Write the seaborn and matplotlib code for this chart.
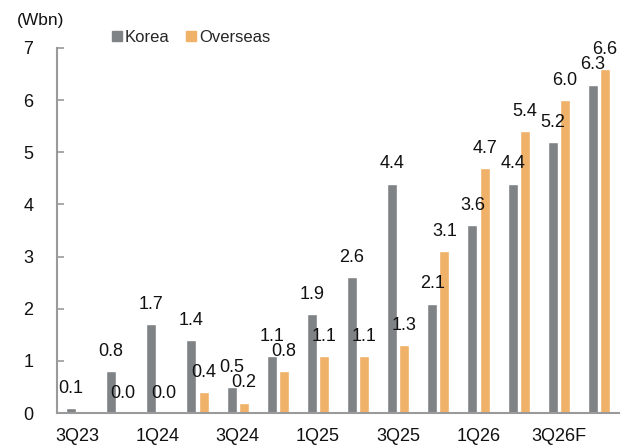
import matplotlib
matplotlib.use("Agg")
import matplotlib.pyplot as plt
import seaborn as sns
import pandas as pd
import numpy as np
from matplotlib.lines import Line2D

quarters = ["3Q23", "4Q23", "1Q24", "2Q24", "3Q24", "4Q24", "1Q25", "2Q25",
            "3Q25", "4Q25", "1Q26", "2Q26", "3Q26F", "4Q26F"]
korea = [0.1, 0.8, 1.7, 1.4, 0.5, 1.1, 1.9, 2.6, 4.4, 2.1, 3.6, 4.4, 5.2, 6.3]
overseas = [np.nan, 0.0, 0.0, 0.4, 0.2, 0.8, 1.1, 1.1, 1.3, 3.1, 4.7, 5.4, 6.0, 6.6]
series = ["Korea", "Overseas"]
colors = ["#808386", "#F0B168"]
yticks = [0, 1, 2, 3, 4, 5, 6, 7]
shown_labels = ["3Q23", "1Q24", "3Q24", "1Q25", "3Q25", "1Q26", "3Q26F"]

df = pd.DataFrame({
    "quarter": quarters * 2,
    "series": [series[0]] * len(quarters) + [series[1]] * len(quarters),
    "value": korea + overseas,
})

sns.set_theme(style="white")
plt.rcParams["font.family"] = ["Liberation Sans", "DejaVu Sans"]

fig = plt.figure(figsize=(6.27, 4.46), dpi=100)
ax = fig.add_axes([57 / 627, 33 / 446, 562 / 627, 365 / 446])

sns.barplot(data=df, x="quarter", y="value", hue="series", order=quarters,
            hue_order=series, palette=colors, width=0.6, gap=0.17,
            saturation=1, legend=False, ax=ax, errorbar=None)

for cont in ax.containers:
    ax.bar_label(cont, fmt="%.1f", padding=8, fontsize=13, color="#111111")

ax.set_xlim(-0.5, len(quarters) - 0.5)
ax.set_ylim(0, 7)
ax.set_yticks(yticks)
ax.set_yticklabels([str(t) for t in yticks])
ax.set_xticks([quarters.index(q) for q in shown_labels])
ax.set_xticklabels(shown_labels)
ax.set_xticks(np.arange(len(quarters) + 1) - 0.5, minor=True)
ax.set_xlabel("")
ax.set_ylabel("")

spine_c = "#9a9a9a"
for s in ["top", "right"]:
    ax.spines[s].set_visible(False)
for s in ["left", "bottom"]:
    ax.spines[s].set_color(spine_c)
    ax.spines[s].set_linewidth(1.5)

ax.tick_params(axis="x", which="major", length=0, pad=11, labelsize=13, labelcolor="#111111")
ax.tick_params(axis="x", which="minor", direction="in", length=5, width=1.2, color=spine_c)
ax.tick_params(axis="y", which="major", direction="in", length=5, width=1.2, color=spine_c,
               pad=17, labelsize=13, labelcolor="#111111", left=True)

handles = [Line2D([], [], marker="s", linestyle="none", markersize=6.5,
                  markerfacecolor=c, markeredgecolor=c) for c in colors]
fig.legend(handles, series, loc="center left", bbox_to_anchor=(110 / 627, 1 - 37 / 446),
           ncol=2, frameon=False, fontsize=12, handletextpad=0.1, columnspacing=0.9,
           handlelength=0.8, borderaxespad=0, borderpad=0)

fig.text(17 / 627, 1 - 21 / 446, "(Wbn)", fontsize=12.5, va="center", ha="left", color="#111111")

fig.savefig("out.png", dpi=100)
